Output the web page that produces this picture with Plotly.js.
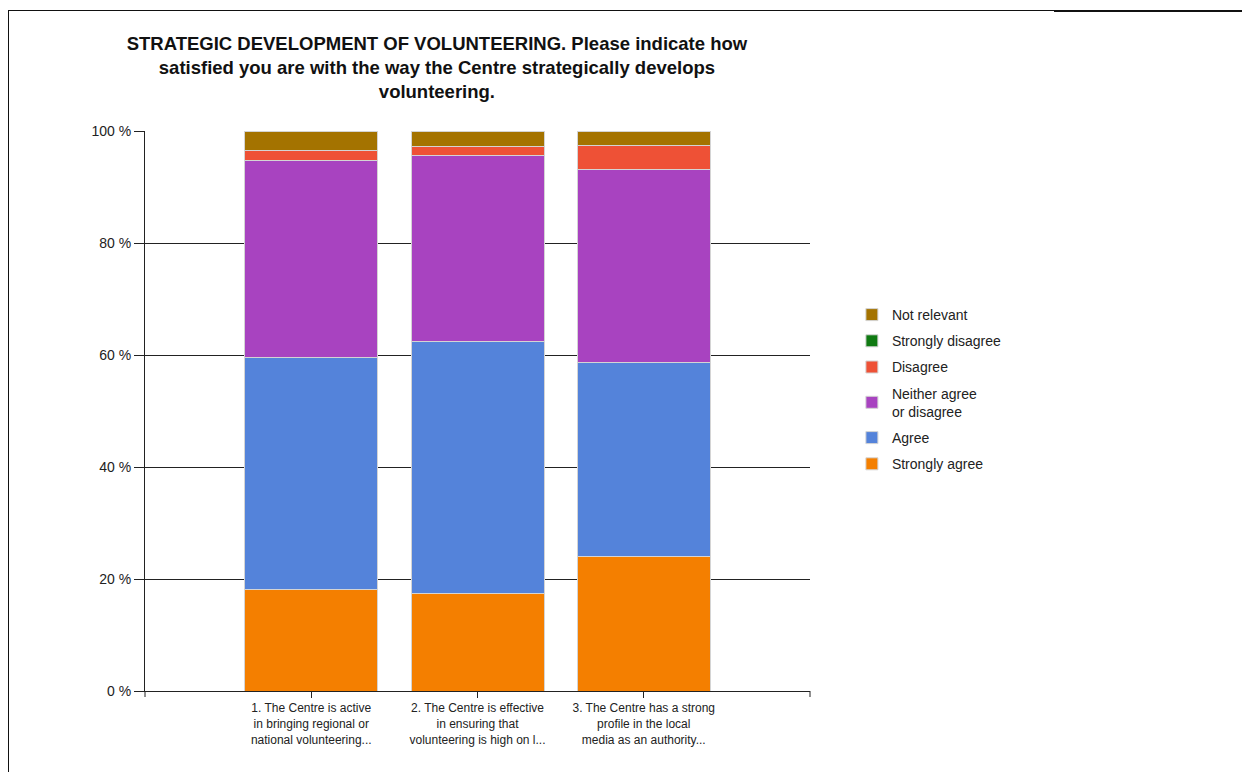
<!DOCTYPE html>
<html>
<head>
<meta charset="utf-8">
<script src="https://cdn.plot.ly/plotly-3.0.1.min.js"></script>
<style>
  html, body { margin: 0; padding: 0; background: #fff; }
  #chart { width: 1242px; height: 772px; }
  .frame { position: absolute; background: #111; }
</style>
</head>
<body>
<div class="frame" style="left:8px; top:10px; width:1046px; height:1px;"></div>
<div class="frame" style="left:1054px; top:10px; width:188px; height:2px;"></div>
<div class="frame" style="left:8px; top:10px; width:1px; height:762px;"></div>
<div id="chart"></div>
<script>
const categories = [
  "1. The Centre is active<br>in bringing regional or<br>national volunteering...",
  "2. The Centre is effective<br>in ensuring that<br>volunteering is high on l...",
  "3. The Centre has a strong<br>profile in the local<br>media as an authority..."
];
const seriesNames = ["Strongly agree", "Agree", "Neither agree<br>or disagree", "Disagree", "Strongly disagree", "Not relevant"];
const stronglyAgree   = [18.1, 17.4, 24.1];
const agree           = [41.5, 45.1, 34.6];
const neither         = [35.2, 33.1, 34.5];
const disagree        = [1.8, 1.6, 4.2];
const stronglyDisagree= [0, 0, 0];
const notRelevant     = [3.4, 2.8, 2.6];
const yTickVals = [0, 20, 40, 60, 80, 100];
const yTickText = ["0 %", "20 %", "40 %", "60 %", "80 %", "100 %"];
const seriesValues = [stronglyAgree, agree, neither, disagree, stronglyDisagree, notRelevant];
const colors = ["#f47f00", "#5483da", "#a843c0", "#ee5136", "#0f7a12", "#a47300"];

const traces = seriesNames.map((name, i) => ({
  type: "bar",
  name: name,
  x: categories,
  y: seriesValues[i],
  width: 0.8,
  legendgroup: "g" + i,
  legendrank: 10 - i,
  marker: { color: colors[i], line: { color: "#d4d4d4", width: 1 } },
  hoverinfo: "skip"
}));

const layout = {
  width: 1242, height: 772,
  paper_bgcolor: "rgba(0,0,0,0)", plot_bgcolor: "rgba(0,0,0,0)",
  margin: { l: 145, r: 432, t: 131, b: 81 },
  barmode: "stack",
  font: { family: "Liberation Sans, Arial, sans-serif", size: 12, color: "#222" },
  title: {
    text: "<b>STRATEGIC DEVELOPMENT OF VOLUNTEERING. Please indicate how<br>satisfied you are with the way the Centre strategically develops<br>volunteering.</b>",
    font: { size: 18.5, color: "#111", family: "Liberation Sans, Arial, sans-serif" },
    xref: "paper", x: 0.439, xanchor: "center",
    yref: "container", y: 1 - 50/772, yanchor: "top"
  },
  xaxis: {
    type: "category", range: [-1, 3],
    showline: true, linecolor: "#222", linewidth: 1,
    ticks: "outside", ticklen: 6, tickcolor: "#222",
    tickfont: { size: 12, color: "#222" },
    showgrid: false, zeroline: false, fixedrange: true
  },
  yaxis: {
    range: [0, 100], tickmode: "array", tickvals: yTickVals, ticktext: yTickText,
    showline: true, linecolor: "#222", linewidth: 1,
    ticks: "outside", ticklen: 10, tickcolor: "#222",
    showgrid: true, gridcolor: "#222", gridwidth: 1,
    zeroline: false, tickfont: { size: 14, color: "#222" }, fixedrange: true
  },
  legend: {
    x: 1.063, y: 0.70, xanchor: "left", yanchor: "top",
    traceorder: "grouped", tracegroupgap: 5,
    font: { size: 14, color: "#222" }, bgcolor: "rgba(0,0,0,0)"
  },
  shapes: [
    { type: "line", xref: "paper", yref: "paper", x0: 0, x1: 0, y0: 0, y1: -6/560, line: { color: "#222", width: 1 } },
    { type: "line", xref: "paper", yref: "paper", x0: 1, x1: 1, y0: 0, y1: -6/560, line: { color: "#222", width: 1 } }
  ],
  showlegend: true
};

Plotly.newPlot("chart", traces, layout, { displayModeBar: false, staticPlot: true });
</script>
</body>
</html>
